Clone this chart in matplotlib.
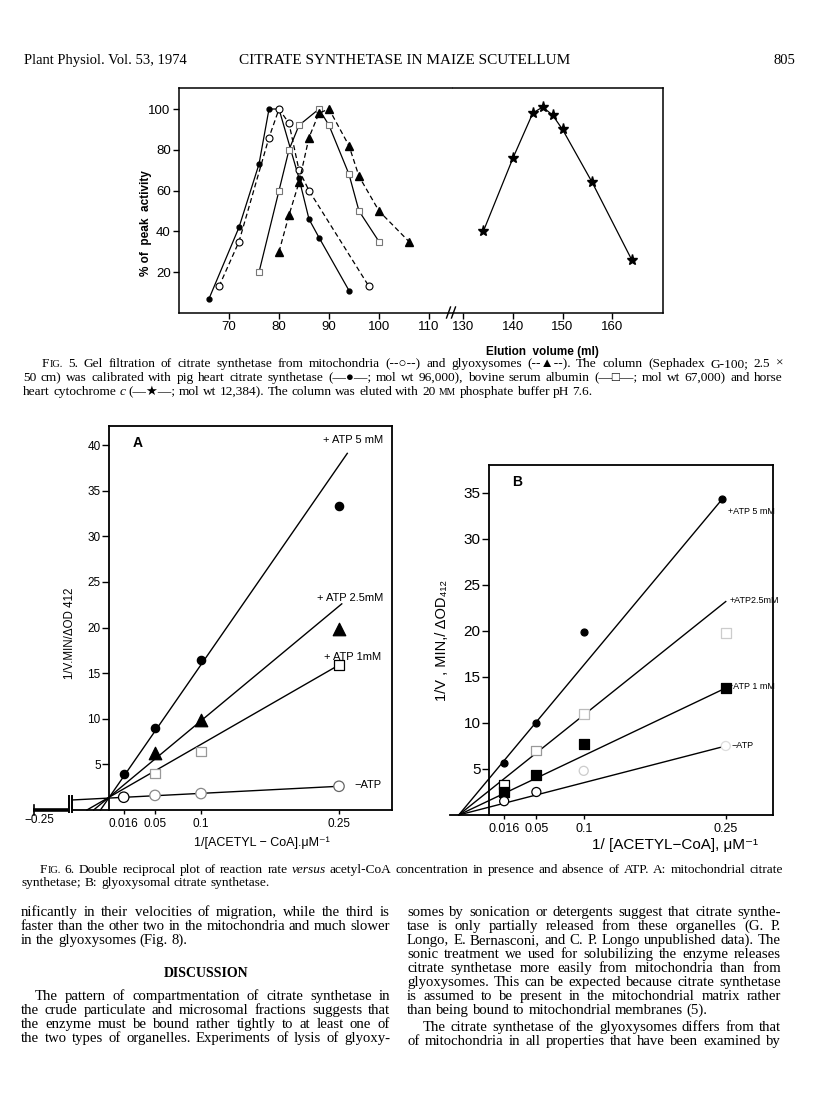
import matplotlib
matplotlib.use("Agg")
import matplotlib.pyplot as plt
from matplotlib.lines import Line2D

W, H = 816, 1107
SERIF = ['Liberation Serif', 'DejaVu Serif', 'DejaVu Sans']
SANS = ['Liberation Sans', 'DejaVu Sans']
plt.rcParams['font.family'] = SANS

# ---------------- Fig. 5 : elution profiles ----------------
mito_x = [68, 72, 78, 80, 82, 84, 86, 98]
mito_y = [13, 35, 86, 100, 93, 70, 60, 13]
glyox_x = [80, 82, 84, 86, 88, 90, 94, 96, 100, 106]
glyox_y = [30, 48, 64, 86, 98, 100, 82, 67, 50, 35]
pig_x = [66, 72, 76, 78, 80, 84, 86, 88, 94]
pig_y = [7, 42, 73, 100, 100, 66, 46, 37, 11]
bsa_x = [76, 80, 82, 84, 88, 90, 94, 96, 100]
bsa_y = [20, 60, 80, 92, 100, 92, 68, 50, 35]
cyt_x = [134, 140, 144, 146, 148, 150, 156, 164]
cyt_y = [40, 76, 98, 101, 97, 90, 64, 26]

# ---------------- Fig. 6 : double reciprocal plots ----------------
conc = [0.016, 0.05, 0.1, 0.25]
# panel A (mitochondria)
a5_x, a5_y = conc, [4.0, 9.0, 16.4, 33.3]
a25_x, a25_y = [0.05, 0.1, 0.25], [6.2, 9.9, 19.8]
a1_x, a1_y = [0.05, 0.1, 0.25], [4.0, 6.4, 15.9]
a0_x, a0_y = conc, [1.4, 1.6, 1.8, 2.6]
a5_line = ([-0.0093, 0.259], [0.0, 39.1])
a25_line = ([-0.0167, 0.253], [0.0, 22.6])
a1_line = ([-0.024, 0.25], [0.0, 15.9])
a0_line = ([-0.040, 0.25], [1.1, 2.6])
# panel B (glyoxysomes)
b5_x, b5_y = [0.016, 0.05, 0.1, 0.246], [5.6, 10.0, 19.9, 34.3]
b25_x, b25_y = conc, [3.3, 7.0, 11.0, 19.8]
b1_x, b1_y = conc, [2.5, 4.3, 7.7, 13.8]
b0_x, b0_y = conc, [1.5, 2.5, 4.8, 7.5]
b5_line = ([-0.032, 0.246], [0.0, 34.3])
b25_line = ([-0.032, 0.25], [0.0, 23.2])
b1_line = ([-0.032, 0.25], [0.0, 13.8])
b0_line = ([-0.032, 0.25], [0.0, 7.5])

fig = plt.figure(figsize=(W / 100, H / 100), dpi=100)
renderer = fig.canvas.get_renderer()


def px_axes(l, t, r, b):
    return fig.add_axes([l / W, 1 - b / H, (r - l) / W, (b - t) / H])


def ftext(x, y, s, **kw):
    return fig.text(x / W, 1 - y / H, s, **kw)


# ---------- Fig 5 (broken x axis) ----------
ax5a = px_axes(179, 88, 452.5, 313)
ax5b = px_axes(452.5, 88, 663, 313)
ax5a.set_xlim(60, 114.7)
ax5b.set_xlim(127.78, 170.3)
dash = (0, (4, 2.5))
for ax in (ax5a, ax5b):
    ax.set_ylim(0, 110.3)
    ax.patch.set_alpha(0)
    for s in ax.spines.values():
        s.set_linewidth(1.1)
    ax.tick_params(direction='out', length=4, width=1, labelsize=9.5, pad=2)

ax5a.plot(pig_x, pig_y, '-', color='k', lw=0.9, marker='o', ms=3.5)
ax5a.plot(mito_x, mito_y, color='k', lw=0.9, ls=dash, marker='o', ms=5,
          mfc='white', mec='k', mew=0.8)
ax5a.plot(bsa_x, bsa_y, '-', color='k', lw=0.9, marker='s', ms=4,
          mfc='white', mec='#777777', mew=0.8)
ax5a.plot(glyox_x, glyox_y, color='k', lw=0.9, ls=dash, marker='^', ms=5.5)
ax5b.plot(cyt_x, cyt_y, '-', color='k', lw=0.9, marker='*', ms=8)

ax5a.spines['right'].set_visible(False)
ax5b.spines['left'].set_visible(False)
ax5a.set_xticks([70, 80, 90, 100, 110])
ax5a.set_yticks([20, 40, 60, 80, 100])
ax5b.set_xticks([130, 140, 150, 160])
ax5b.set_yticks([])
# break marks
for bx in (448.5, 453.5):
    fig.add_artist(Line2D([(bx - 2) / W, (bx + 2) / W], [1 - 318 / H, 1 - 307 / H],
                          color='k', lw=1))
ftext(146, 223, '% of  peak  activity', rotation=90, ha='center', va='center',
      fontsize=8.5, weight='bold')
ftext(542, 352, 'Elution  volume (ml)', ha='center', va='center', fontsize=8.5, weight='bold')


# ---------- Fig 6 panels ----------
def panel(ax, xl, yl, xtick_size, ytick_size):
    ax.set_xlim(*xl)
    ax.set_ylim(*yl)
    ax.patch.set_alpha(0)
    for s in ax.spines.values():
        s.set_linewidth(1.3)
    ax.spines['left'].set_position(('data', 0))
    ax.spines['left'].set_bounds(0, yl[1])
    ax.spines['top'].set_bounds(0, xl[1])
    ax.set_xticks(conc)
    ax.set_xticklabels(['0.016', '0.05', '0.1', '0.25'])
    ax.tick_params(axis='x', direction='out', length=3, width=1, labelsize=xtick_size, pad=3)
    ax.tick_params(axis='y', direction='out', length=5, width=1, labelsize=ytick_size, pad=1)


def pts(ax, x, y, marker, size, face, edges, lw=0.9):
    ax.scatter(x, y, s=size ** 2, marker=marker, facecolors=face, edgecolors=edges,
               linewidths=lw, zorder=3, clip_on=False)


axA = px_axes(33, 426, 392, 810)
panel(axA, (-0.0826, 0.3076), (0, 42.1), 8.5, 8.5)
axA.spines['bottom'].set_bounds(-0.0402, 0.3076)
axA.set_yticks([5, 10, 15, 20, 25, 30, 35, 40])
for ln in (a5_line, a25_line, a1_line, a0_line):
    axA.plot(ln[0], ln[1], color='k', lw=1.0, clip_on=False)
pts(axA, a5_x, a5_y, 'o', 6, 'k', 'k')
pts(axA, a25_x, a25_y, '^', 9, 'k', 'k')
pts(axA, a1_x, a1_y, 's', 7, 'white', ['#999999', '#999999', 'k'])
pts(axA, a0_x, a0_y, 'o', 7.5, 'white', ['k', '#888888', '#888888', '#666666'])
# broken stub of the abscissa down to -0.25
axA.plot([-0.0826, -0.0446], [0, 0], color='k', lw=2.6, clip_on=False, solid_capstyle='butt')
axA.plot([-0.0815, -0.0815], [-0.5, 0.5], color='k', lw=1.2, clip_on=False)
axA.plot([-0.0437, -0.0437], [-0.25, 1.55], color='k', lw=1.4, clip_on=False)
axA.plot([-0.0404, -0.0404], [-0.25, 1.55], color='k', lw=1.4, clip_on=False)
axA.text(-0.076, -0.45, '\u22120.25', ha='center', va='top', fontsize=8.5)
axA.text(0.0315, 40.2, 'A', fontsize=10, weight='bold', ha='center', va='center')
axA.text(0.265, 40.6, '+ ATP 5 mM', fontsize=8, ha='center', va='center')
axA.text(0.262, 23.2, '+ ATP 2.5mM', fontsize=8, ha='center', va='center')
axA.text(0.265, 16.8, '+ ATP 1mM', fontsize=8, ha='center', va='center')
axA.text(0.282, 2.7, '\u2212ATP', fontsize=8, ha='center', va='center')
ftext(70, 633, '1/V.MIN/\u0394OD 412', rotation=90, ha='center', va='center', fontsize=8.3)
ftext(262, 843, '1/[ACETYL \u2212 CoA].\u03bcM\u207b\u00b9', ha='center', va='center', fontsize=9)

axB = px_axes(450, 465, 773, 815)
panel(axB, (-0.0412, 0.2999), (0, 38.04), 9, 11)
axB.spines['bottom'].set_bounds(-0.0412, 0.2999)
axB.set_yticks([5, 10, 15, 20, 25, 30, 35])
for ln in (b5_line, b25_line, b1_line, b0_line):
    axB.plot(ln[0], ln[1], color='k', lw=1.0, clip_on=False)
pts(axB, b5_x, b5_y, 'o', 5, 'k', 'k')
pts(axB, b25_x, b25_y, 's', 7, 'white', ['k', '#999999', '#bbbbbb', '#cccccc'])
pts(axB, b1_x, b1_y, 's', 7, 'k', 'k')
pts(axB, b0_x, b0_y, 'o', 6.5, 'white', ['k', 'k', '#cccccc', '#dddddd'])
axB.text(0.0296, 36.2, 'B', fontsize=10, weight='bold', ha='center', va='center')
axB.text(0.2524, 33.0, '+ATP 5 mM', fontsize=6.5, ha='left', va='center')
axB.text(0.2545, 23.3, '+ATP2.5mM', fontsize=6.5, ha='left', va='center')
axB.text(0.2524, 14.0, '+ATP 1 mM', fontsize=6.5, ha='left', va='center')
axB.text(0.2566, 7.6, '\u2212ATP', fontsize=6.5, ha='left', va='center')
ftext(442, 640, '1/V , MIN,/ \u0394OD\u2084\u2081\u2082', rotation=90, ha='center', va='center',
      fontsize=10.5)
ftext(675, 845, '1/ [ACETYL\u2212CoA], \u03bcM\u207b\u00b9', ha='center', va='center', fontsize=11)


# ---------- page text ----------
def token_segments(word):
    if word == 'FIG.':
        return [('F', 1.0, 'normal'), ('IG.', 0.78, 'normal')]
    if word == 'mM':
        return [('MM', 0.72, 'normal')]
    if word.startswith('_'):
        return [(word[1:], 1.0, 'italic')]
    return [(word, 1.0, 'normal')]


def text_line(line, x0, x1, y, size, justify=True, weight='normal'):
    items = []
    for w in line.split(' '):
        segs = []
        for s, f, st in token_segments(w):
            t = ftext(0, y, s, fontsize=size * f, family=SERIF, style=st,
                      weight=weight, va='baseline', ha='left')
            segs.append((t, t.get_window_extent(renderer).width))
        items.append(segs)
    widths = [sum(wd for _, wd in segs) for segs in items]
    if justify and len(items) > 1:
        gap = (x1 - x0 - sum(widths)) / (len(items) - 1)
    else:
        gap = size * 100 / 72 * 0.25
    x = x0
    for segs, wd in zip(items, widths):
        xx = x
        for t, w in segs:
            t.set_x(xx / W)
            xx += w
        x += wd + gap


ftext(24, 64, 'Plant Physiol. Vol. 53, 1974', family=SERIF, fontsize=10.5, va='baseline')
ftext(239, 64, 'CITRATE SYNTHETASE IN MAIZE SCUTELLUM', family=SERIF, fontsize=11,
      va='baseline')
ftext(795, 64, '805', family=SERIF, fontsize=10.5, va='baseline', ha='right')

CAP = 9.6
cap5 = [
    'FIG. 5. Gel filtration of citrate synthetase from mitochondria (--\u25cb--) and glyoxysomes (--\u25b2--). The column (Sephadex G-100; 2.5 \u00d7',
    '50 cm) was calibrated with pig heart citrate synthetase (\u2014\u25cf\u2014; mol wt 96,000), bovine serum albumin (\u2014\u25a1\u2014; mol wt 67,000) and horse',
    'heart cytochrome _c (\u2014\u2605\u2014; mol wt 12,384). The column was eluted with 20 mM phosphate buffer pH 7.6.',
]
text_line(cap5[0], 42, 783, 367, CAP)
text_line(cap5[1], 23, 783, 381, CAP)
text_line(cap5[2], 23, 783, 395, CAP, justify=False)

cap6 = [
    'FIG. 6. Double reciprocal plot of reaction rate _versus acetyl-CoA concentration in presence and absence of ATP. A: mitochondrial citrate',
    'synthetase; B: glyoxysomal citrate synthetase.',
]
text_line(cap6[0], 40, 783, 873, CAP)
text_line(cap6[1], 22, 783, 886, CAP, justify=False)

BODY = 10.6
left_col = [
    ('nificantly in their velocities of migration, while the third is', 21, True, 916),
    ('faster than the other two in the mitochondria and much slower', 21, True, 930),
    ('in the glyoxysomes (Fig. 8).', 21, False, 944),
    ('The pattern of compartmentation of citrate synthetase in', 35, True, 1000),
    ('the crude particulate and microsomal fractions suggests that', 21, True, 1014),
    ('the enzyme must be bound rather tightly to at least one of', 21, True, 1028),
    ('the two types of organelles. Experiments of lysis of glyoxy-', 21, True, 1042),
]
for txt, x0, just, y in left_col:
    text_line(txt, x0, 390, y, BODY, justify=just)
ftext(206, 977, 'DISCUSSION', family=SERIF, fontsize=10, weight='bold', ha='center',
      va='baseline')

right_col = [
    ('somes by sonication or detergents suggest that citrate synthe-', 407, True),
    ('tase is only partially released from these organelles (G. P.', 407, True),
    ('Longo, E. Bernasconi, and C. P. Longo unpublished data). The', 407, True),
    ('sonic treatment we used for solubilizing the enzyme releases', 407, True),
    ('citrate synthetase more easily from mitochondria than from', 407, True),
    ('glyoxysomes. This can be expected because citrate synthetase', 407, True),
    ('is assumed to be present in the mitochondrial matrix rather', 407, True),
    ('than being bound to mitochondrial membranes (5).', 407, False),
    ('The citrate synthetase of the glyoxysomes differs from that', 423, True),
    ('of mitochondria in all properties that have been examined by', 407, True),
]
for i, (txt, x0, just) in enumerate(right_col):
    text_line(txt, x0, 781, 916 + 14 * i + (3 if i >= 8 else 0), BODY, justify=just)

fig.savefig('out.png', dpi=100)
